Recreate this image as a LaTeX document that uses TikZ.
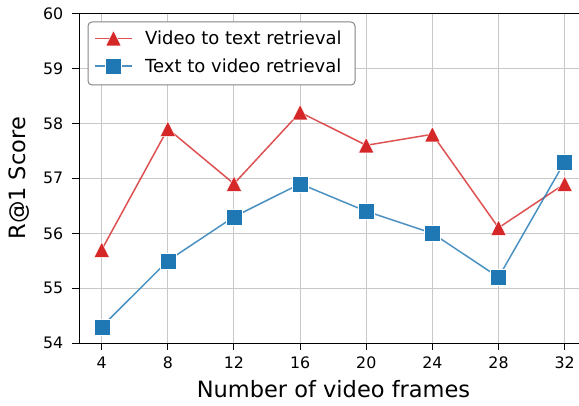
\documentclass[tikz,border=0pt]{standalone}
\usepackage{fontspec}
\setmainfont{DejaVu Sans}
\definecolor{tred}{HTML}{D62728}
\definecolor{tblue}{HTML}{1F77B4}
\definecolor{gridc}{HTML}{C8C8C8}
\definecolor{legc}{HTML}{858585}
\tikzset{
  gridline/.style={gridc, line width=1pt},
  spine/.style={black, line width=1pt},
  ticklab/.style={inner sep=0pt, font=\fontsize{15.8}{16}\selectfont},
  axlab/.style={inner sep=0pt, font=\fontsize{22.5}{23}\selectfont},
  leglab/.style={inner sep=0pt, anchor=base west, font=\fontsize{18}{18}\selectfont},
  redline/.style={tred, opacity=0.8, line width=1.5pt},
  blueline/.style={tblue, opacity=0.8, line width=1.5pt},
  trimark/.pic={\fill[tred, draw=white, line width=0.4pt] (0,-7.6) -- (7.6,7.6) -- (-7.6,7.6) -- cycle;},
  sqmark/.pic={\fill[tblue, draw=white, line width=0.4pt] (-8,-8) rectangle (8,8);}
}
\begin{document}
\begin{tikzpicture}[x=1pt,y=-1pt]
\useasboundingbox (0,0) rectangle (579,406);
\fill[white] (0,0) rectangle (579,406);
% grid
\foreach \f in {4,8,...,32} {
  \draw[gridline] ({101.7+(\f-4)*16.535},13.3) -- ({101.7+(\f-4)*16.535},343.3);
}
\foreach \v in {55,...,59} {
  \draw[gridline] (79,{343.3-(\v-54)*55}) -- (579,{343.3-(\v-54)*55});
}
% spines
\draw[spine] (579,13.3) -- (79,13.3) -- (79,343.3) -- (579,343.3);
% y ticks
\foreach \v in {54,...,60} {
  \draw[spine] (72,{343.3-(\v-54)*55}) -- (79,{343.3-(\v-54)*55});
  \node[ticklab, anchor=east] (yt\v) at (63.5,{343.3-(\v-54)*55}) {\v};
}
% x ticks
\foreach \f in {4,8,...,32} {
  \draw[spine] ({101.7+(\f-4)*16.535},343.3) -- ({101.7+(\f-4)*16.535},350.3);
  \node[ticklab, anchor=north] (xt\f) at ({101.7+(\f-4)*16.535},357) {\f};
}
% axis labels
\node[axlab, anchor=base] (xlabel) at (333.5,398) {Number of video frames};
\node[axlab, anchor=base, rotate=90] (ylabel) at (25,178.3) {R@1 Score};
% data
\foreach \i/\f/\r/\b in {1/4/55.7/54.3, 2/8/57.9/55.5, 3/12/56.9/56.3, 4/16/58.2/56.9, 5/20/57.6/56.4, 6/24/57.8/56.0, 7/28/56.1/55.2, 8/32/56.9/57.3} {
  \coordinate (r\i) at ({101.7+(\f-4)*16.535},{343.3-(\r-54)*55});
  \coordinate (b\i) at ({101.7+(\f-4)*16.535},{343.3-(\b-54)*55});
}
\draw[redline] (r1) -- (r2) -- (r3) -- (r4) -- (r5) -- (r6) -- (r7) -- (r8);
\foreach \i in {1,...,8} { \pic at (r\i) {trimark}; }
\draw[blueline] (b1) -- (b2) -- (b3) -- (b4) -- (b5) -- (b6) -- (b7) -- (b8);
\foreach \i in {1,...,8} { \pic at (b\i) {sqmark}; }
% legend
\node[draw=legc, fill=white, rounded corners=4pt, line width=1pt, minimum width=267pt, minimum height=63pt, inner sep=0pt] (legend) at (221.5,53.5) {};
\coordinate (l1a) at (95,38.3);
\coordinate (l1b) at (132,38.3);
\coordinate (l1m) at (113.5,38.3);
\coordinate (l2a) at (95,66);
\coordinate (l2b) at (132,66);
\coordinate (l2m) at (113.5,66);
\draw[redline] (l1a) -- (l1b);
\pic at (l1m) {trimark};
\draw[blueline] (l2a) -- (l2b);
\pic at (l2m) {sqmark};
\node[leglab] (lt1) at (145,44.3) {Video to text retrieval};
\node[leglab] (lt2) at (145,73) {Text to video retrieval};
\end{tikzpicture}
\end{document}
